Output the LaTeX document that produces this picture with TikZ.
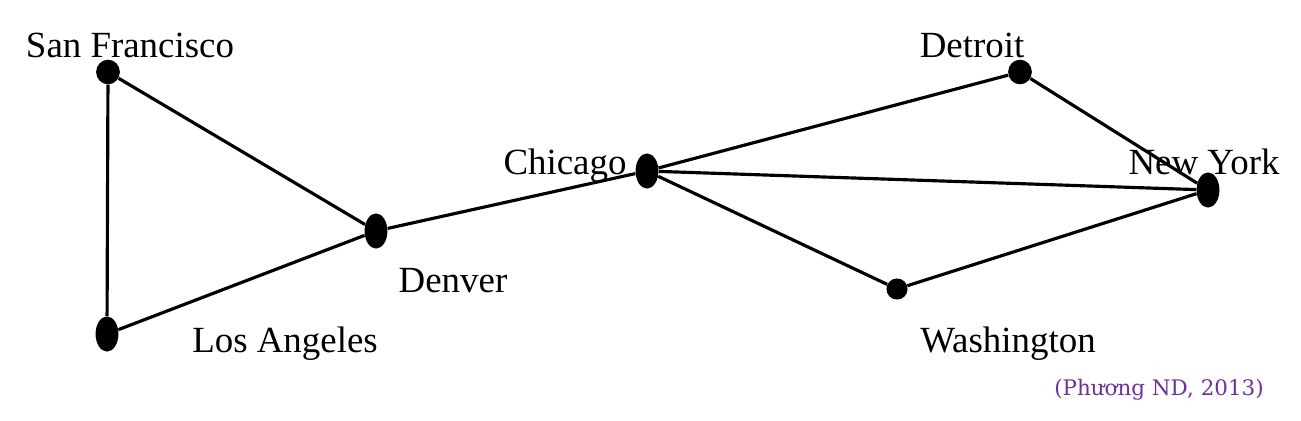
\documentclass[tikz,border=0pt]{standalone}
\usepackage{fontspec}
\setmainfont{Liberation Serif}
\newfontfamily\creditfont{DejaVu Serif}
\usetikzlibrary{shapes.geometric}
\definecolor{creditpurple}{RGB}{112,48,160}
\begin{document}
\begin{tikzpicture}[x=0.02cm, y=-0.02cm]
\useasboundingbox (0,0) rectangle (1301,420);

\tikzset{every node/.style={ellipse, fill, inner sep=0pt, minimum width=13.5, minimum height=14}}
\node (sf) at (108, 72) {};
\node (det) at (1020, 72) {};
\node (was) at (897, 289) [minimum width=12, minimum height=12] {};
\tikzset{every node/.style={ellipse, fill, inner sep=0pt, minimum width=13, minimum height=20}}
\node (la) at (107, 334) {};
\node (den) at (376, 231) {};
\node (chi) at (647, 171) {};
\node (ny) at (1208, 190) {};

\tikzset{every node/.style={anchor=base, inner sep=0pt, font=\fontsize{21}{25}\selectfont}}
\node (sfl) at (130, 57) {San Francisco};
\node (lal) at (285, 352) {Los Angeles};
\node (denl) at (453, 292) {Denver};
\node (chil) at (565, 174) {Chicago};
\node (detl) at (972, 57) {Detroit};
\node (nyl) at (1204, 174) {New York};
\node (wasl) at (1008, 352) {Washington};
\tikzset{every node/.style={anchor=base, inner sep=0pt, text=creditpurple, font=\creditfont\fontsize{12.2}{14}\selectfont}}
\node (src) at (1159, 395) {(Phương ND, 2013)};

\tikzset{every node/.style={}};
\tikzset{mystyle/.style={line width=1.8pt}};
\path (sf) edge [mystyle] node {} (la);
\path (sf) edge [mystyle] node {} (den);
\path (la) edge [mystyle] node {} (den);
\path (den) edge [mystyle] node {} (chi);
\path (chi) edge [mystyle] node {} (det);
\path (chi) edge [mystyle] node {} (ny);
\path (chi) edge [mystyle] node {} (was);
\path (det) edge [mystyle] node {} (ny);
\path (was) edge [mystyle] node {} (ny);
\end{tikzpicture}
\end{document}
